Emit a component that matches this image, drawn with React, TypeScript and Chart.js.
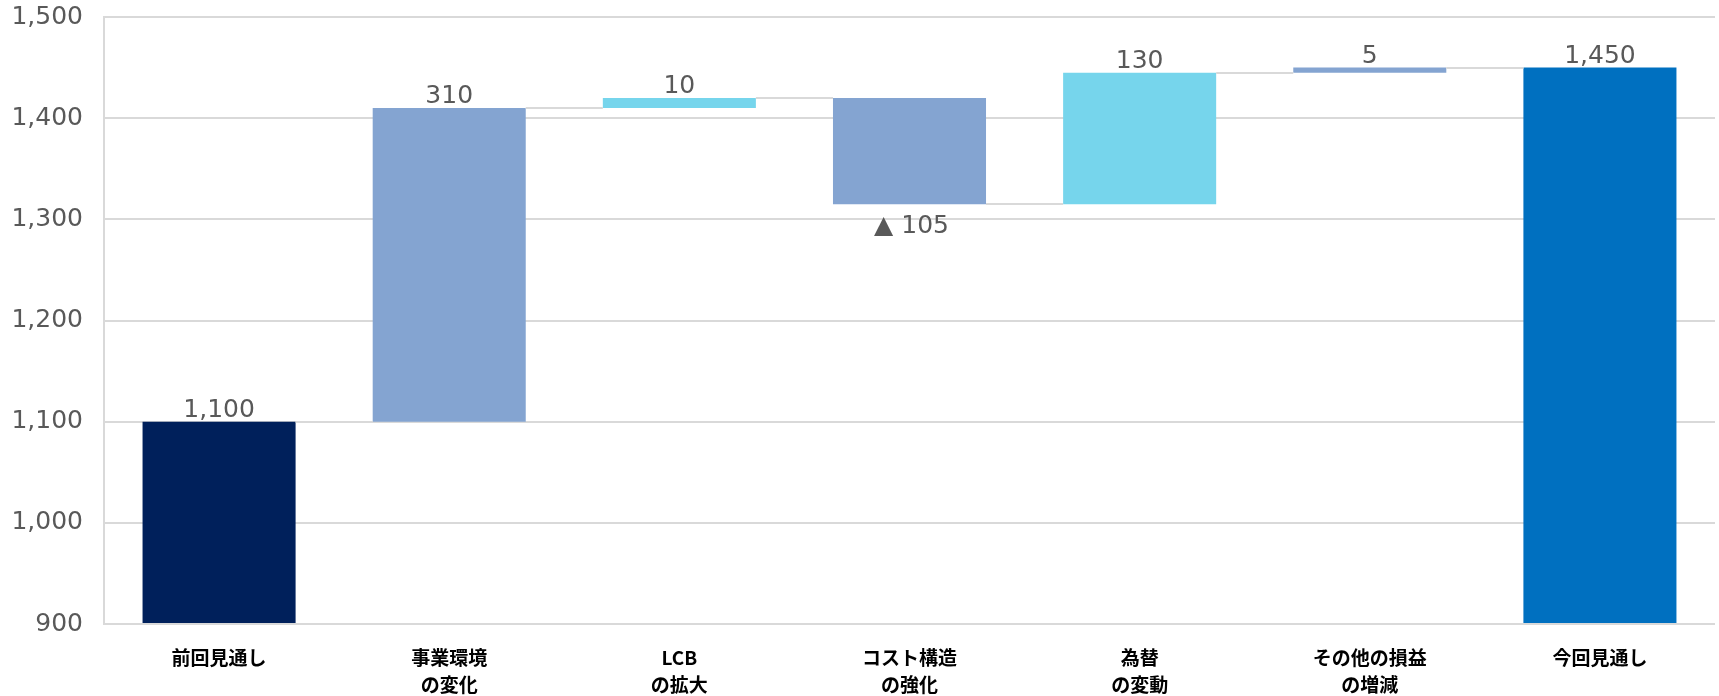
import React, { useEffect, useRef } from 'react';
import { Chart, registerables } from 'chart.js';

Chart.register(...registerables);

const categories: string[][] = [
  ['前回見通し'],
  ['事業環境', 'の変化'],
  ['LCB', 'の拡大'],
  ['コスト構造', 'の強化'],
  ['為替', 'の変動'],
  ['その他の損益', 'の増減'],
  ['今回見通し'],
];
const startValue = 1100;
const changes = [310, 10, -105, 130, 5];
const endValue = 1450;
const barColors = ['#00205B', '#84A4D1', '#76D5EC', '#84A4D1', '#76D5EC', '#84A4D1', '#0070C0'];
const yMin = 900;
const yMax = 1500;
const yStep = 100;

const FONT = '"DejaVu Sans", Verdana, sans-serif';
const GRAY_TEXT = '#595959';
const GRID = '#d9d9d9';

function buildRanges(): [number, number][] {
  const ranges: [number, number][] = [[0, startValue]];
  let run = startValue;
  for (const c of changes) {
    ranges.push([run, run + c]);
    run += c;
  }
  ranges.push([0, endValue]);
  return ranges;
}

function buildLabels(): string[] {
  const fmt = (v: number) => v.toLocaleString('en-US');
  const out = [fmt(startValue)];
  for (const c of changes) out.push(c < 0 ? '▲ ' + fmt(-c) : fmt(c));
  out.push(fmt(endValue));
  return out;
}

const waterfallPlugin = {
  id: 'waterfallExtras',
  afterDatasetsDraw(chart: any) {
    const ctx = chart.ctx;
    const meta = chart.getDatasetMeta(0);
    const ranges = buildRanges();
    const labels = buildLabels();
    const yScale = chart.scales.y;
    const area = chart.chartArea;
    ctx.save();
    // connectors
    ctx.strokeStyle = GRID;
    ctx.lineWidth = 2;
    for (let i = 0; i < meta.data.length - 1; i++) {
      const a = meta.data[i];
      const b = meta.data[i + 1];
      const level = ranges[i][1];
      const yy = Math.round(yScale.getPixelForValue(level));
      ctx.beginPath();
      ctx.moveTo(a.x + a.width / 2, yy);
      ctx.lineTo(b.x - b.width / 2, yy);
      ctx.stroke();
    }
    // bottom axis line over bars
    ctx.beginPath();
    ctx.moveTo(area.left, area.bottom);
    ctx.lineTo(area.right, area.bottom);
    ctx.stroke();
    // value labels
    ctx.fillStyle = GRAY_TEXT;
    ctx.font = `25px ${FONT}`;
    ctx.textAlign = 'center';
    ctx.textBaseline = 'alphabetic';
    meta.data.forEach((el: any, i: number) => {
      const r = ranges[i];
      const top = Math.min(el.y, el.base);
      const bottom = Math.max(el.y, el.base);
      if (r[1] < r[0]) {
        ctx.fillText(labels[i], el.x + 2, bottom + 29);
      } else {
        ctx.fillText(labels[i], el.x, top - 5);
      }
    });
    ctx.restore();
  },
};

export default function App() {
  const ref = useRef<HTMLCanvasElement | null>(null);
  useEffect(() => {
    document.body.style.margin = '0';
    if (!ref.current) return;
    const chart = new Chart(ref.current, {
      type: 'bar',
      data: {
        labels: categories,
        datasets: [
          {
            data: buildRanges() as any,
            backgroundColor: barColors,
            borderWidth: 0,
            barPercentage: 1,
            categoryPercentage: 0.665,
          },
        ],
      },
      options: {
        responsive: false,
        animation: false,
        layout: { padding: { top: 17, right: 4, left: 0, bottom: 0 } },
        plugins: {
          legend: { display: false },
          tooltip: { enabled: false },
        },
        scales: {
          x: {
            grid: { display: false, drawTicks: false },
            border: { display: false },
            ticks: {
              color: '#000000',
              font: { family: '"Noto Sans CJK JP", sans-serif', size: 19, weight: 'bold', lineHeight: '27px' },
              padding: 20,
              maxRotation: 0,
              autoSkip: false,
            },
            afterFit(scale: any) {
              scale.height = 72;
              scale.paddingLeft = 0;
              scale.paddingRight = 0;
            },
          },
          y: {
            min: yMin,
            max: yMax,
            ticks: {
              stepSize: yStep,
              color: GRAY_TEXT,
              font: { family: FONT, size: 25 },
              padding: 21,
              callback: (v: any) => Number(v).toLocaleString('en-US'),
            },
            grid: { color: GRID, lineWidth: 2, drawTicks: false },
            border: { display: true, color: GRID, width: 2 },
            afterFit(scale: any) {
              scale.width = 104;
              scale.paddingTop = 0;
              scale.paddingBottom = 0;
            },
          },
        },
      },
      plugins: [waterfallPlugin],
    });
    return () => chart.destroy();
  }, []);
  return (
    <div style={{ width: 1719, height: 696 }}>
      <canvas ref={ref} width={1719} height={696} style={{ display: 'block' }} />
    </div>
  );
}
